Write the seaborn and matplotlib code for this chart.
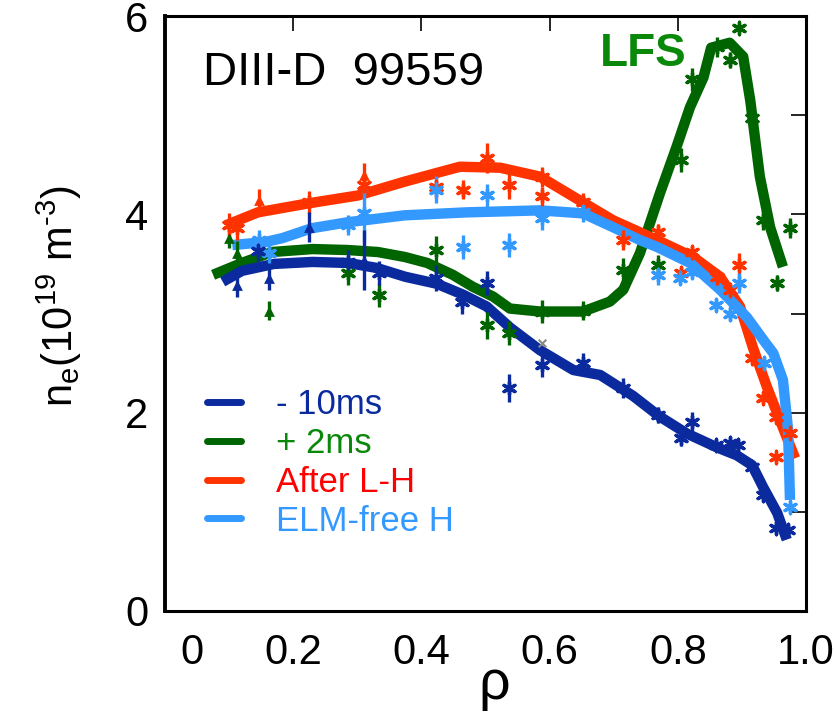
import numpy as np
import pandas as pd
import matplotlib
matplotlib.use("Agg")
import matplotlib.pyplot as plt
import matplotlib.transforms as mtransforms
from matplotlib.lines import Line2D
import seaborn as sns

sns.set_style("white")
plt.rcParams["font.family"] = ["Liberation Sans", "DejaVu Sans"]
plt.rcParams["mathtext.fontset"] = "custom"
plt.rcParams["mathtext.rm"] = "Liberation Sans"
plt.rcParams["mathtext.it"] = "Liberation Sans:italic"
plt.rcParams["text.color"] = "black"
plt.rcParams["axes.labelcolor"] = "black"
plt.rcParams["xtick.color"] = "black"
plt.rcParams["ytick.color"] = "black"

# ---- series names and colours ----
series = ["- 10ms", "+ 2ms", "After L-H", "ELM-free H"]
line_colors = ["#0a2a9e", "#006400", "#ff3300", "#3399ff"]
text_colors = ["#0a2a9e", "#0a880a", "#ff0000", "#3399ff"]

# ---- fitted profiles (rho, n_e) ----
fit_m10_rho = [0.09, 0.12, 0.17, 0.23, 0.285, 0.33, 0.375, 0.424, 0.465, 0.502, 0.538, 0.585,
               0.637, 0.679, 0.73, 0.772, 0.814, 0.861, 0.892, 0.916, 0.933, 0.955, 0.970]
fit_m10_ne = [3.32, 3.43, 3.50, 3.52, 3.51, 3.46, 3.37, 3.30, 3.19, 3.07, 2.86, 2.63,
              2.43, 2.38, 2.17, 1.96, 1.79, 1.65, 1.57, 1.47, 1.25, 0.99, 0.72]

fit_p2_rho = [0.075, 0.12, 0.167, 0.23, 0.285, 0.332, 0.374, 0.409, 0.449, 0.48, 0.512, 0.538,
              0.585, 0.652, 0.694, 0.715, 0.741, 0.772, 0.798, 0.819, 0.84, 0.852, 0.881,
              0.902, 0.913, 0.928, 0.944, 0.964]
fit_p2_ne = [3.39, 3.51, 3.62, 3.65, 3.64, 3.62, 3.57, 3.51, 3.39, 3.27, 3.17, 3.05,
             3.02, 3.02, 3.12, 3.24, 3.61, 4.21, 4.68, 5.08, 5.38, 5.68, 5.73,
             5.59, 5.15, 4.38, 3.87, 3.47]

fit_lh_rho = [0.095, 0.145, 0.223, 0.301, 0.374, 0.46, 0.523, 0.585, 0.647, 0.699, 0.768,
              0.824, 0.866, 0.897, 0.917, 0.939, 0.959, 0.983]
fit_lh_ne = [3.89, 4.02, 4.11, 4.19, 4.33, 4.48, 4.47, 4.38, 4.14, 3.94, 3.74,
             3.57, 3.37, 3.07, 2.66, 2.26, 1.93, 1.54]

fit_elm_rho = [0.105, 0.156, 0.183, 0.229, 0.285, 0.374, 0.471, 0.585, 0.652, 0.699, 0.741,
               0.768, 0.819, 0.866, 0.908, 0.935, 0.949, 0.964, 0.972, 0.975]
fit_elm_ne = [3.69, 3.72, 3.76, 3.86, 3.92, 3.99, 4.02, 4.04, 4.01, 3.87, 3.74,
              3.67, 3.51, 3.24, 2.96, 2.72, 2.60, 2.33, 1.83, 1.12]

# ---- measured points (rho, n_e, error); star and triangle symbols ----
pts_m10_rho = [0.145, 0.285, 0.334, 0.423, 0.463, 0.502, 0.537, 0.588, 0.652, 0.714, 0.769,
               0.805, 0.822, 0.86, 0.881, 0.894, 0.916, 0.933, 0.953, 0.972]
pts_m10_ne = [3.63, 3.52, 3.41, 3.36, 3.12, 3.31, 2.25, 2.48, 2.50, 2.25, 1.98,
              1.74, 1.91, 1.67, 1.69, 1.67, 1.45, 1.17, 0.84, 0.82]
pts_m10_err = [0.1, 0.12, 0.12, 0.13, 0.12, 0.12, 0.14, 0.12, 0.1, 0.1, 0.08,
               0.08, 0.1, 0.06, 0.06, 0.06, 0.06, 0.06, 0.06, 0.06]
tri_m10_rho = [0.112, 0.162, 0.225, 0.31]
tri_m10_ne = [3.29, 3.36, 3.87, 3.54]
tri_m10_err = [0.12, 0.12, 0.15, 0.3]

pts_p2_rho = [0.286, 0.334, 0.423, 0.502, 0.537, 0.588, 0.652, 0.714, 0.769, 0.805, 0.822,
              0.861, 0.881, 0.896, 0.916, 0.933, 0.955, 0.975]
pts_p2_ne = [3.41, 3.19, 3.64, 2.88, 2.80, 3.02, 3.03, 3.44, 3.49, 4.55, 5.36,
             5.69, 5.56, 5.88, 4.97, 3.94, 3.31, 3.86]
pts_p2_err = [0.12, 0.12, 0.14, 0.14, 0.12, 0.12, 0.1, 0.12, 0.1, 0.12, 0.12,
              0.1, 0.08, 0.04, 0.04, 0.1, 0.08, 0.1]
tri_p2_rho = [0.1, 0.112, 0.162]
tri_p2_ne = [3.76, 3.61, 3.03]
tri_p2_err = [0.1, 0.12, 0.1]

pts_lh_rho = [0.1, 0.112, 0.225, 0.31, 0.423, 0.465, 0.502, 0.537, 0.588, 0.588, 0.652,
              0.714, 0.769, 0.805, 0.822, 0.861, 0.881, 0.896, 0.916, 0.933, 0.953,
              0.975, 0.953]
pts_lh_ne = [3.89, 3.86, 4.12, 4.30, 4.28, 4.25, 4.57, 4.30, 4.38, 4.18, 4.12,
             3.74, 3.82, 3.41, 3.62, 3.37, 3.24, 3.49, 2.55, 2.15, 1.96,
             1.80, 1.55]
pts_lh_err = [0.12, 0.12, 0.12, 0.12, 0.12, 0.1, 0.15, 0.15, 0.1, 0.1, 0.1,
              0.1, 0.08, 0.06, 0.06, 0.08, 0.06, 0.12, 0.05, 0.05, 0.05,
              0.05, 0.04]
tri_lh_rho = [0.147, 0.31]
tri_lh_ne = [4.14, 4.40]
tri_lh_err = [0.12, 0.12]

pts_elm_rho = [0.147, 0.162, 0.286, 0.31, 0.423, 0.465, 0.502, 0.537, 0.588, 0.652,
               0.769, 0.803, 0.822, 0.86, 0.881, 0.896, 0.934, 0.975]
pts_elm_ne = [3.74, 3.61, 3.89, 4.01, 4.25, 3.67, 4.19, 3.69, 3.96, 4.02,
              3.39, 3.36, 3.42, 3.09, 3.00, 3.31, 2.50, 1.05]
pts_elm_err = [0.1, 0.1, 0.1, 0.3, 0.14, 0.12, 0.12, 0.12, 0.12, 0.1,
               0.1, 0.06, 0.06, 0.06, 0.08, 0.1, 0.06, 0.06]

odd_rho = [0.588]
odd_ne = [2.70]

# ---- assemble the fitted curves for seaborn ----
fits = [(fit_p2_rho, fit_p2_ne, series[1]),
        (fit_lh_rho, fit_lh_ne, series[2]),
        (fit_elm_rho, fit_elm_ne, series[3]),
        (fit_m10_rho, fit_m10_ne, series[0])]
frames = [pd.DataFrame({"rho": r, "ne": n, "series": s}) for r, n, s in fits]
curves = pd.concat(frames, ignore_index=True)

W, H = 837, 715
fig = plt.figure(figsize=(W / 100, H / 100), dpi=100)
ax = fig.add_axes([165 / W, 1 - 611 / H, 641 / W, 595 / H])

palette = dict(zip(series, line_colors))
for r, n, s in fits:
    sub = curves[curves["series"] == s]
    sns.lineplot(data=sub, x="rho", y="ne", sort=False, estimator=None,
                 color=palette[s], linewidth=7.5, ax=ax, legend=False,
                 solid_capstyle="butt", solid_joinstyle="round", zorder=2)

star = (6, 2, 0)
point_sets = [
    (pts_p2_rho, pts_p2_ne, pts_p2_err, tri_p2_rho, tri_p2_ne, tri_p2_err, line_colors[1]),
    (pts_lh_rho, pts_lh_ne, pts_lh_err, tri_lh_rho, tri_lh_ne, tri_lh_err, line_colors[2]),
    (pts_elm_rho, pts_elm_ne, pts_elm_err, [], [], [], line_colors[3]),
    (pts_m10_rho, pts_m10_ne, pts_m10_err, tri_m10_rho, tri_m10_ne, tri_m10_err, line_colors[0]),
]
for pr, pn, pe, tr, tn, te, c in point_sets:
    ax.errorbar(pr, pn, yerr=pe, fmt="none", ecolor=c, elinewidth=2.4, capsize=0, zorder=3)
    sns.scatterplot(x=pr, y=pn, marker=star, s=80, color=c, edgecolor=c,
                    linewidth=2.4, ax=ax, zorder=4, legend=False)
    if tr:
        ax.errorbar(tr, tn, yerr=te, fmt="none", ecolor=c, elinewidth=2.4, capsize=0, zorder=3)
        sns.scatterplot(x=tr, y=tn, marker="^", s=60, color=c, edgecolor=c,
                        linewidth=0, ax=ax, zorder=4, legend=False)
sns.scatterplot(x=odd_rho, y=odd_ne, marker="x", s=30, color="#888888",
                linewidth=1.5, ax=ax, zorder=4, legend=False)

# ---- axes ----
ax.set_xlim(0, 1.0)
ax.set_ylim(0, 6)
ax.set_xticks([0, 0.2, 0.4, 0.6, 0.8, 1.0])
ax.set_xticklabels(["0", "0.2", "0.4", "0.6", "0.8", "1.0"])
ax.set_yticks([0, 1, 2, 3, 4, 5, 6])
ax.set_yticklabels(["0", "", "2", "", "4", "", "6"])
ax.tick_params(axis="both", direction="in", length=11, width=1.2, labelsize=30,
               top=True, right=True, color="black", labelcolor="black")
ax.tick_params(axis="x", pad=16)
ax.tick_params(axis="y", pad=12)
for sp in ax.spines.values():
    sp.set_linewidth(2.2)
    sp.set_color("black")
ax.spines["left"].set_linewidth(2.8)

# shift the "0" label clear of the y-axis corner
lab0 = ax.get_xticklabels()[0]
lab0.set_transform(lab0.get_transform() + mtransforms.ScaledTranslation(27 / 100, 0, fig.dpi_scale_trans))

ax.set_xlabel("ρ", fontsize=40, color="black")
ax.xaxis.set_label_coords(0.513, -0.08)
ax.set_ylabel("n$_\\mathregular{e}$(10$^\\mathregular{19}$ m$^\\mathregular{\u20103}$)",
              fontsize=30, color="black")
ax.yaxis.set_label_coords(-0.126, 0.53)

ax.text(0.059, 0.884, "DIII-D  99559", transform=ax.transAxes, fontsize=34,
        ha="left", va="baseline", color="black")
ax.text(0.679, 0.916, "LFS", transform=ax.transAxes, fontsize=33, fontweight="bold",
        ha="left", va="baseline", color="#0a880a")

handles = [Line2D([0], [0], color=c, linewidth=5) for c in line_colors]
leg = ax.legend(handles, series, loc="upper left", bbox_to_anchor=(0.065, 0.375),
                frameon=False, fontsize=25, handlelength=1.0, handletextpad=1.0,
                labelspacing=0.17, borderpad=0, borderaxespad=0)
for t, c in zip(leg.get_texts(), text_colors):
    t.set_color(c)

fig.savefig("out.png", dpi=100)
